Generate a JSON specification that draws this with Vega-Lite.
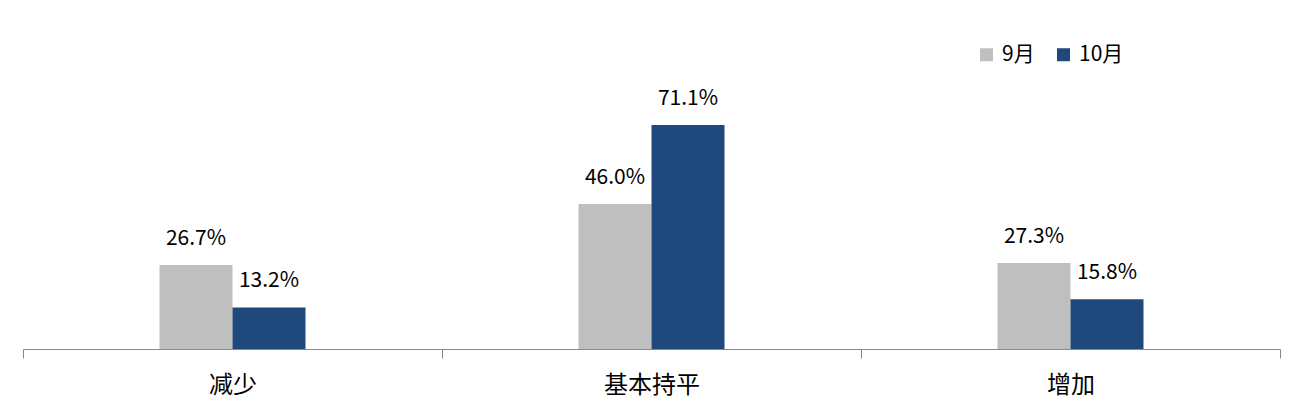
{
  "$schema": "https://vega.github.io/schema/vega-lite/v6.json",
  "width": 1257,
  "height": 315,
  "autosize": "none",
  "padding": {"left": 23, "top": 34, "right": 24, "bottom": 67},
  "background": "white",
  "config": {
    "view": {"stroke": null},
    "font": "Noto Sans CJK SC"
  },
  "data": {
    "values": [
      {"category": "减少", "month": "9月", "value": 26.7, "label": "26.7%"},
      {"category": "减少", "month": "10月", "value": 13.2, "label": "13.2%"},
      {"category": "基本持平", "month": "9月", "value": 46.0, "label": "46.0%"},
      {"category": "基本持平", "month": "10月", "value": 71.1, "label": "71.1%"},
      {"category": "增加", "month": "9月", "value": 27.3, "label": "27.3%"},
      {"category": "增加", "month": "10月", "value": 15.8, "label": "15.8%"}
    ]
  },
  "encoding": {
    "x": {
      "field": "category",
      "type": "nominal",
      "sort": ["减少", "基本持平", "增加"],
      "scale": {"paddingInner": 0, "paddingOuter": 0},
      "axis": {
        "title": null,
        "labelAngle": 0,
        "labelFontSize": 24,
        "labelColor": "#000000",
        "labelFont": "Noto Sans CJK SC",
        "labelPadding": 15,
        "tickBand": "extent",
        "tickSize": 9,
        "tickColor": "#898989",
        "domainColor": "#898989",
        "tickWidth": 1,
        "domainWidth": 1,
        "grid": false
      }
    },
    "xOffset": {
      "field": "month",
      "type": "nominal",
      "sort": ["9月", "10月"],
      "scale": {"paddingInner": 0, "paddingOuter": 0, "range": [136.5, 282.5]}
    },
    "y": {
      "field": "value",
      "type": "quantitative",
      "scale": {"domain": [0, 100]},
      "axis": null
    }
  },
  "layer": [
    {
      "mark": {"type": "bar"},
      "encoding": {
        "color": {
          "field": "month",
          "type": "nominal",
          "sort": ["9月", "10月"],
          "scale": {"domain": ["9月", "10月"], "range": ["#bfbfbf", "#1f497d"]},
          "legend": {
            "title": null,
            "orient": "none",
            "direction": "horizontal",
            "legendX": 953,
            "legendY": 10,
            "symbolType": "square",
            "symbolSize": 169,
            "symbolStrokeWidth": 0,
            "labelFontSize": 21,
            "labelColor": "#000000",
            "labelFont": "Noto Sans CJK SC",
            "labelOffset": 5,
            "columnPadding": 18,
            "padding": 0
          }
        }
      }
    },
    {
      "mark": {
        "type": "text",
        "baseline": "alphabetic",
        "dy": -20,
        "fontSize": 21,
        "color": "#000000",
        "font": "Noto Sans CJK SC"
      },
      "encoding": {
        "text": {"field": "label"}
      }
    }
  ]
}
